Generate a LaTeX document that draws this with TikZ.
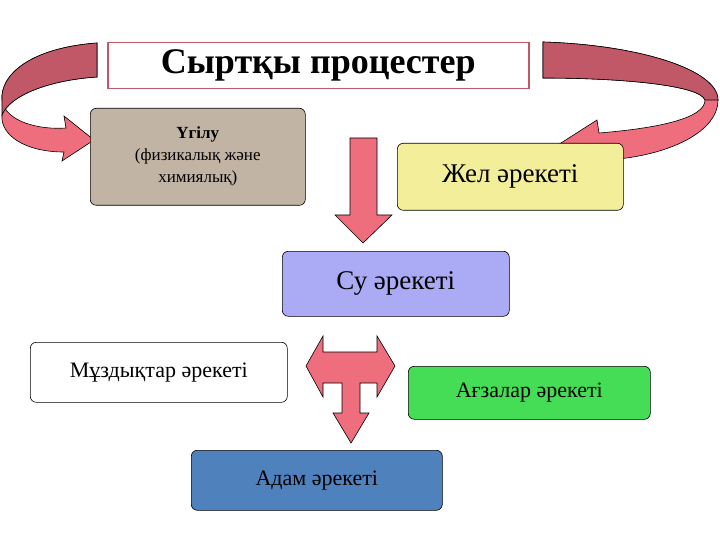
\documentclass[tikz,border=0pt]{standalone}
\usepackage{fontspec}
\setmainfont{Liberation Serif}
\begin{document}
\begin{tikzpicture}[x=1pt,y=-1pt,
  box/.style={draw=black,line width=0.6pt,rounded corners=6pt,inner sep=0pt,anchor=north west},
  arr/.style={fill=pinkA,draw=black,line width=0.6pt}]
\definecolor{pinkA}{HTML}{EE6E7E}
\definecolor{darkA}{HTML}{C05868}
\useasboundingbox (0,0) rectangle (720,540);
% left ribbon
\draw[arr] (97,43) .. controls (30,48) and (0,75) .. (2,100) .. controls (5,122) and (40,130) .. (66,128)
  -- (64,116) -- (94,140) -- (62,161) -- (64,152) .. controls (25,152) and (0,135) .. (2,115)
  .. controls (10,95) and (50,80) .. (97,77) -- cycle;
\fill[darkA,draw=black,line width=0.6pt] (97,43) .. controls (30,48) and (0,75) .. (2,100) -- (2,115)
  .. controls (10,95) and (50,80) .. (97,77) -- cycle;
% right ribbon
\draw[arr] (543,42) .. controls (640,45) and (718,70) .. (718,100) .. controls (718,135) and (660,158) .. (603,160)
  -- (605,176) -- (550,150) -- (597,120) -- (599,133) .. controls (660,128) and (705,118) .. (705,100)
  .. controls (700,85) and (620,78) .. (543,78) -- cycle;
\fill[darkA,draw=black,line width=0.6pt] (543,42) .. controls (640,45) and (718,70) .. (718,100) -- (705,100)
  .. controls (700,85) and (620,78) .. (543,78) -- cycle;
% boxes
\node[draw=darkA,line width=1.5pt,fill=white,minimum width=421pt,minimum height=46pt,anchor=north west,
  font=\fontsize{36}{40}\selectfont\bfseries] (title) at (107,42) {Сыртқы процестер};
\node[box,fill={rgb,255:red,194;green,180;blue,164},minimum width=215pt,minimum height=97pt,
  align=center,font=\fontsize{17}{22}\selectfont] (ugilu) at (90,108) {\textbf{Үгілу}\\(физикалық және\\химиялық)};
\node[box,fill={rgb,255:red,242;green,238;blue,154},minimum width=226pt,minimum height=67pt,font=\fontsize{27}{30}\selectfont] (zhel) at (397,143) {Жел әрекеті};
\node[box,fill={rgb,255:red,170;green,170;blue,245},minimum width=227pt,minimum height=65pt,font=\fontsize{27}{30}\selectfont] (su) at (282,251) {Су әрекеті};
\node[box,fill=white,minimum width=257pt,minimum height=60pt,font=\fontsize{22}{26}\selectfont] (muz) at (30,342) {Мұздықтар әрекеті};
\node[box,fill={rgb,255:red,68;green,221;blue,85},minimum width=242pt,minimum height=53pt,font=\fontsize{22}{26}\selectfont] (agza) at (408,366) {Ағзалар әрекеті};
\node[box,fill={rgb,255:red,79;green,129;blue,189},minimum width=251pt,minimum height=60pt,font=\fontsize{22}{26}\selectfont] (adam) at (191,450) {Адам әрекеті};
% down arrow
\draw[arr] (350,138) -- (377,138) -- (377,215) -- (392,215) -- (363,243) -- (335,215) -- (350,215) -- cycle;
% T arrow
\draw[arr] (306,366) -- (323,336) -- (323,352) -- (377,352) -- (377,336) -- (395,366) -- (377,397) -- (377,383)
  -- (360,383) -- (360,413) -- (369,413) -- (351,443) -- (333,413) -- (342,413) -- (342,383) -- (323,383) -- (323,397) -- cycle;
\end{tikzpicture}
\end{document}
